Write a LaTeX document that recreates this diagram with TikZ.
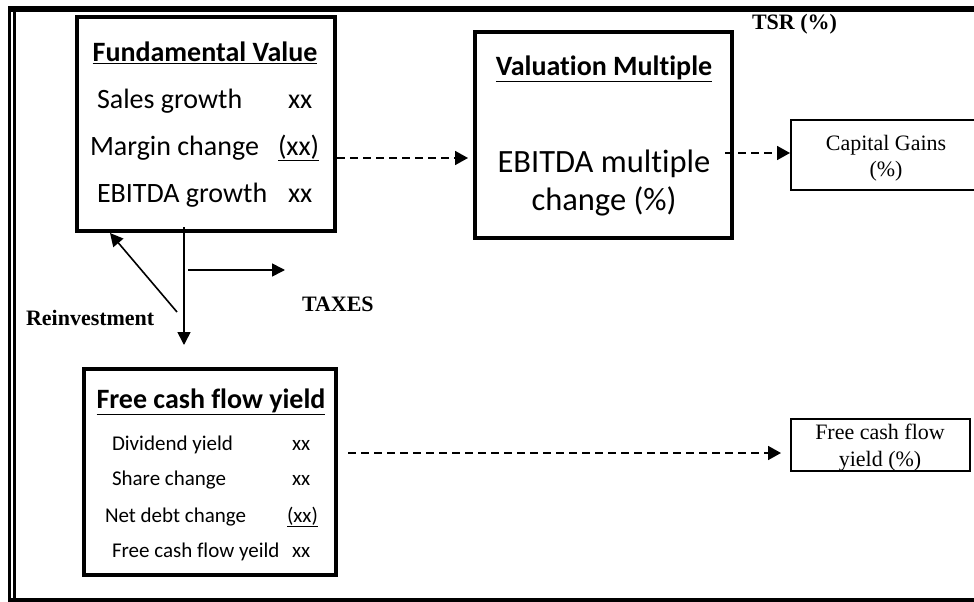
\documentclass[tikz,border=0pt]{standalone}
\usepackage{fontspec}
\setmainfont{Liberation Serif}
\newfontfamily\calib[Ligatures=NoCommon]{Carlito}
\usetikzlibrary{arrows.meta}
\tikzset{
  boxbase/.style={draw, inner sep=0pt, outer sep=0pt},
  bigbox/.style={boxbase, line width=4pt},
  smallbox/.style={boxbase, line width=2pt},
  txt/.style={inner sep=0pt, outer sep=0pt},
  caltitle/.style={txt, anchor=base, font=\calib\bfseries\fontsize{28}{32}\selectfont},
  calrow/.style={txt, anchor=base west, font=\calib\fontsize{28}{32}\selectfont},
  calbig/.style={txt, anchor=base, font=\calib\fontsize{32.5}{38}\selectfont},
  calsmall/.style={txt, anchor=base west, font=\calib\fontsize{21}{25}\selectfont},
  serifbold/.style={txt, font=\bfseries\fontsize{22}{26}\selectfont},
  serifreg/.style={txt, anchor=base, font=\fontsize{22}{26}\selectfont},
  solidarrow/.style={line width=1.6pt, -{Triangle[length=13pt,width=13pt]}},
  dasharrow/.style={line width=1.8pt, dash pattern=on 8pt off 5pt, -{Triangle[length=13pt,width=14pt]}}
}
\begin{document}
\begin{tikzpicture}[x=1pt,y=-1pt]
\useasboundingbox (0,0) rectangle (974,602);
\clip (0,0) rectangle (974,602);
% outer frame
\fill (8,6) rectangle (980,12);
\fill (8,6) rectangle (11,602);
\fill (13,12) rectangle (16,598);
\fill (8,598) rectangle (980,602);

% Fundamental Value box
\node[bigbox, minimum width=258pt, minimum height=214pt] (fv) at (206,124) {};
\node[caltitle] (fvt) at (205,62) {\underline{Fundamental Value}};
\node[calrow] (fv1) at (97,108) {Sales growth};
\node[calrow] (fv1x) at (288,108) {xx};
\node[calrow] (fv2) at (90,155) {Margin change};
\node[calrow] (fv2x) at (278,155) {\underline{(xx)}};
\node[calrow] (fv3) at (97,202) {EBITDA growth};
\node[calrow] (fv3x) at (288,202) {xx};

% Valuation Multiple box
\node[bigbox, minimum width=257pt, minimum height=206pt] (vm) at (603.5,135) {};
\node[caltitle] (vmt) at (604,75) {\underline{Valuation Multiple}};
\node[calbig] (vm1) at (604,172) {EBITDA multiple};
\node[calbig] (vm2) at (604,210) {change (\%)};

% TSR label
\node[serifbold, anchor=base west] (tsr) at (752,30) {TSR (\%)};

% Capital Gains box
\node[smallbox, minimum width=191pt, minimum height=70pt] (cg) at (886.5,155) {};
\node[serifreg] (cg1) at (886,150) {Capital Gains};
\node[serifreg] (cg2) at (886,176) {(\%)};

% Free cash flow yield box
\node[bigbox, minimum width=252pt, minimum height=206pt] (fcf) at (210,472) {};
\node[caltitle] (fcft) at (211,408) {\underline{Free cash flow yield}};
\node[calsmall] (fc1) at (112,450) {Dividend yield};
\node[calsmall] (fc1x) at (292,450) {xx};
\node[calsmall] (fc2) at (112,485) {Share change};
\node[calsmall] (fc2x) at (292,485) {xx};
\node[calsmall] (fc3) at (105,522) {Net debt change};
\node[calsmall] (fc3x) at (287,522) {\underline{(xx)}};
\node[calsmall] (fc4) at (112,557) {Free cash flow yeild};
\node[calsmall] (fc4x) at (292,557) {xx};

% Free cash flow yield (%) box
\node[smallbox, minimum width=179pt, minimum height=52pt] (fcp) at (880.5,445) {};
\node[serifreg] (fcp1) at (880,439) {Free cash flow};
\node[serifreg] (fcp2) at (880,466) {yield (\%)};

% labels
\node[serifbold, anchor=base west] (reinv) at (26,325) {Reinvestment};
\node[serifbold, anchor=base west] (taxes) at (302,311) {TAXES};

% connector end points
\coordinate (vsrc) at (184,227);
\coordinate (vtip) at (184,345);
\coordinate (tsrc) at (188,270);
\coordinate (ttip) at (285,270);
\coordinate (rsrc) at (177,312);
\coordinate (rtip) at (110,233);
\coordinate (d1src) at (337,158);
\coordinate (d1tip) at (468,158);
\coordinate (d2src) at (725,153);
\coordinate (d2tip) at (790,153);
\coordinate (d3src) at (348,453);
\coordinate (d3tip) at (781,453);

% connectors
\draw[solidarrow] (vsrc) -- (vtip);
\draw[solidarrow] (tsrc) -- (ttip);
\draw[solidarrow] (rsrc) -- (rtip);
\draw[dasharrow] (d1src) -- (d1tip);
\draw[dasharrow] (d2src) -- (d2tip);
\draw[dasharrow] (d3src) -- (d3tip);
\end{tikzpicture}
\end{document}
